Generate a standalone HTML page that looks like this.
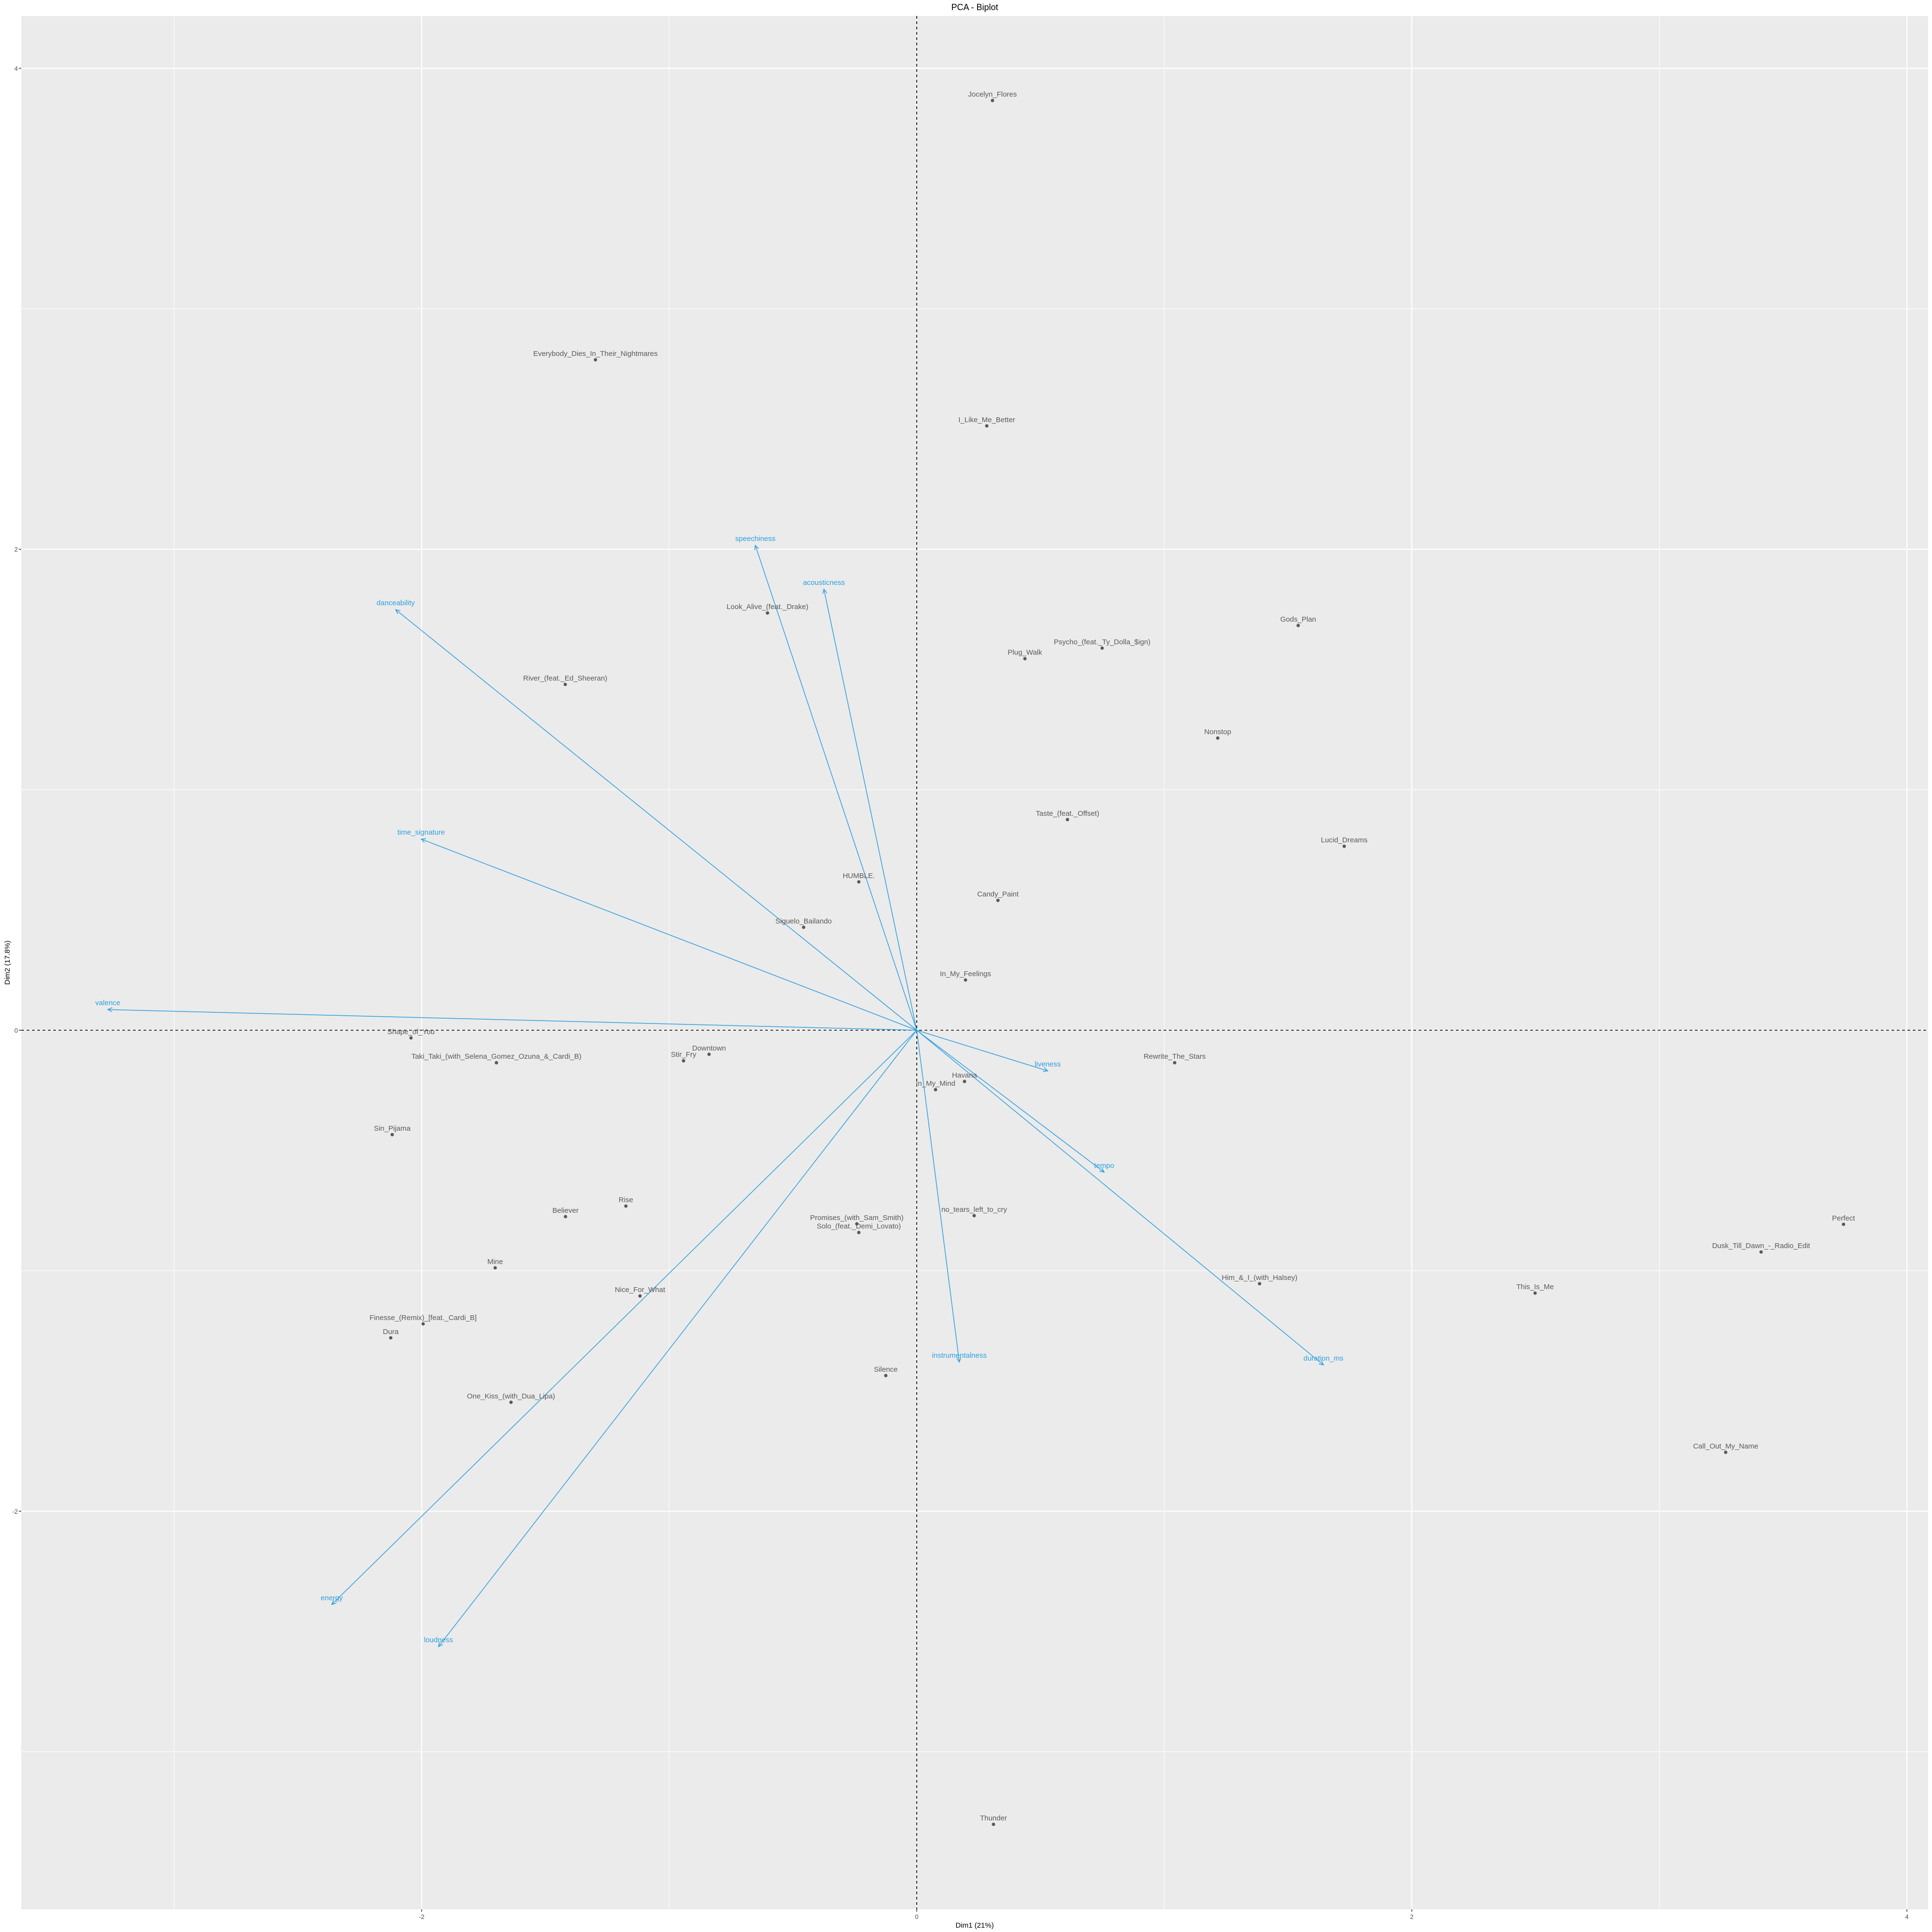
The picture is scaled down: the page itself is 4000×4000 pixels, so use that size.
<!DOCTYPE html>
<html><head><meta charset="utf-8"><style>
html,body{margin:0;padding:0;background:#fff;}
svg{display:block;font-family:"Liberation Sans",Arial,sans-serif;}
</style></head><body>
<svg id="chart" width="4000" height="4000" viewBox="0 0 4000 4000" xmlns="http://www.w3.org/2000/svg">
<text x="2018" y="21" font-size="18" text-anchor="middle" fill="#000">PCA - Biplot</text>
<text x="2018" y="3991" font-size="15" text-anchor="middle" fill="#000">Dim1 (21%)</text>
<text x="20" y="1993" font-size="15" text-anchor="middle" fill="#000" transform="rotate(-90 20 1993)">Dim2 (17.8%)</text>
</svg>
<script>
const pointNames=["Jocelyn_Flores","Everybody_Dies_In_Their_Nightmares","I_Like_Me_Better","Look_Alive_(feat._Drake)","Gods_Plan","Psycho_(feat._Ty_Dolla_$ign)","Plug_Walk","River_(feat._Ed_Sheeran)","Nonstop","Taste_(feat._Offset)","Lucid_Dreams","HUMBLE.","Candy_Paint","Siguelo_Bailando","In_My_Feelings","Shape_of_You","Taki_Taki_(with_Selena_Gomez_Ozuna_&_Cardi_B)","Downtown","Stir_Fry","Sin_Pijama","Havana","In_My_Mind","Rewrite_The_Stars","Believer","Rise","no_tears_left_to_cry","Promises_(with_Sam_Smith)","Solo_(feat._Demi_Lovato)","Perfect","Dusk_Till_Dawn_-_Radio_Edit","Mine","Him_&_I_(with_Halsey)","This_Is_Me","Nice_For_What","Finesse_(Remix)_[feat._Cardi_B]","Dura","Silence","One_Kiss_(with_Dua_Lipa)","Call_Out_My_Name","Thunder"];
const pointX=[0.306,-1.298,0.283,-0.603,1.541,0.749,0.437,-1.420,1.216,0.609,1.727,-0.234,0.328,-0.457,0.197,-2.043,-1.698,-0.839,-0.942,-2.119,0.193,0.076,1.042,-1.419,-1.175,0.232,-0.242,-0.234,3.744,3.411,-1.703,1.385,2.498,-1.118,-1.994,-2.125,-0.125,-1.639,3.268,0.310];
const pointY=[3.866,2.788,2.513,1.735,1.683,1.589,1.545,1.438,1.215,0.876,0.765,0.617,0.540,0.428,0.209,-0.032,-0.135,-0.100,-0.127,-0.434,-0.213,-0.247,-0.135,-0.775,-0.731,-0.771,-0.805,-0.841,-0.807,-0.922,-0.988,-1.054,-1.093,-1.105,-1.221,-1.279,-1.436,-1.547,-1.755,-3.302];
const varNames=["speechiness","acousticness","danceability","time_signature","valence","liveness","tempo","instrumentalness","duration_ms","energy","loudness"];
const varX=[-0.652,-0.375,-2.105,-2.002,-3.268,0.529,0.757,0.172,1.643,-2.363,-1.932];
const varY=[2.016,1.834,1.749,0.795,0.086,-0.169,-0.590,-1.380,-1.392,-2.388,-2.563];
const xTicks=[-2,0,2,4];
const yTicks=[-2,0,2,4];

const L=44,R=3992,T=33,B=3953;
const X0=1898,Y0=2133,SX=512.5,SY=497.9;
const sx=v=>X0+v*SX, sy=v=>Y0-v*SY;
const svg=document.getElementById('chart');
const NS='http://www.w3.org/2000/svg';
function mk(tag,attrs,parent){const e=document.createElementNS(NS,tag);for(const k in attrs)e.setAttribute(k,attrs[k]);(parent||svg).appendChild(e);return e;}

const panel=mk('rect',{x:L,y:T,width:R-L,height:B-T,fill:'#EBEBEB'});


const grid=mk('g',{});


for(let v=-3;v<=4;v++){
  const px=sx(v); if(px>L&&px<R) mk('line',{x1:px,x2:px,y1:T,y2:B,stroke:'#fff','stroke-width':v%2===0?2.2:1.1},grid);
}
for(let v=-4;v<=4;v++){
  const py=sy(v); if(py>T&&py<B) mk('line',{x1:L,x2:R,y1:py,y2:py,stroke:'#fff','stroke-width':v%2===0?2.2:1.1},grid);
}
const zx=mk('line',{x1:L,x2:R,y1:sy(0),y2:sy(0),stroke:'#000','stroke-width':1.6,'stroke-dasharray':'6,5'});


const zy=mk('line',{x1:sx(0),x2:sx(0),y1:T,y2:B,stroke:'#000','stroke-width':1.6,'stroke-dasharray':'6,5'});



xTicks.forEach(v=>{
  const px=sx(v);
  const t=mk('line',{x1:px,x2:px,y1:B,y2:B+5,stroke:'#333','stroke-width':1.5});
  
  
  const lb=mk('text',{x:px,y:B+20,'font-size':13,'text-anchor':'middle',fill:'#4D4D4D'});
  lb.textContent=String(v);
  
  
});
yTicks.forEach(v=>{
  const py=sy(v);
  const t=mk('line',{x1:L-5,x2:L,y1:py,y2:py,stroke:'#333','stroke-width':1.5});
  
  
  const lb=mk('text',{x:L-7,y:py+5,'font-size':13,'text-anchor':'end',fill:'#4D4D4D'});
  lb.textContent=String(v);
  
  
});

const col='#2E9FDF';
varNames.forEach((n,i)=>{
  const g=mk('g',{});
  
  
  const x2=sx(varX[i]),y2=sy(varY[i]);
  mk('line',{x1:X0,y1:Y0,x2:x2,y2:y2,stroke:col,'stroke-width':1.5},g);
  const ang=Math.atan2(y2-Y0,x2-X0),h=10,a=0.45;
  mk('polyline',{points:`${x2-h*Math.cos(ang-a)},${y2-h*Math.sin(ang-a)} ${x2},${y2} ${x2-h*Math.cos(ang+a)},${y2-h*Math.sin(ang+a)}`,fill:'none',stroke:col,'stroke-width':1.5},g);
  const t=mk('text',{x:x2,y:y2-9,'font-size':15,'text-anchor':'middle',fill:col},g);
  t.textContent=n;
});

pointNames.forEach((n,i)=>{
  const g=mk('g',{});
  
  
  const px=sx(pointX[i]),py=sy(pointY[i]);
  mk('circle',{cx:px,cy:py,r:3.5,fill:'#595959'},g);
  const t=mk('text',{x:px,y:py-8,'font-size':15,'text-anchor':'middle',fill:'#595959'},g);
  t.textContent=n;
});
</script>
</body></html>
